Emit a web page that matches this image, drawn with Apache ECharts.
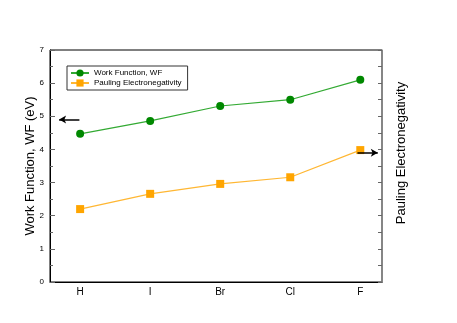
<!DOCTYPE html>
<html>
  <head>
    <meta charset="utf-8" />
    <title>Work Function</title>
    <script src="https://cdn.jsdelivr.net/npm/echarts@6/dist/echarts.min.js"></script>
    <style>
      body { margin: 0; background: #fff; }
    </style>
  </head>
  <body>
    <div id="main" style="width: 457px;height:323px;"></div>
    <script type="text/javascript">
        // data
        var elements = ['H', 'I', 'Br', 'Cl', 'F'];
        var workFunction = [4.47, 4.86, 5.31, 5.50, 6.10];
        var pauling = [2.20, 2.66, 2.96, 3.16, 3.98];
        var yTicks = [0, 1, 2, 3, 4, 5, 6, 7];

        function toPairs(vals) {
            return vals.map(function (v, i) { return [i, v]; });
        }

        var myChart = echarts.init(document.getElementById('main'));

        var option = {
            animation: false,
            textStyle: { fontFamily: 'Liberation Sans, Arial, sans-serif' },
            grid: {
                left: 50, right: 75, top: 50, bottom: 41,
                show: true, borderColor: '#000', borderWidth: 1
            },
            legend: {
                left: 67, top: 66,
                orient: 'vertical',
                itemGap: 2,
                itemWidth: 18, itemHeight: 9,
                padding: [3, 6, 3, 3],
                borderColor: '#333', borderWidth: 1,
                textStyle: { fontSize: 8, color: '#000' },
                data: ['Work Function, WF', 'Pauling Electronegativity']
            },
            xAxis: {
                type: 'value',
                min: -0.43, max: 4.31,
                splitLine: { show: false },
                axisTick: { show: false },
                axisLine: { onZero: false, lineStyle: { color: '#000' } },
                axisLabel: {
                    customValues: [0, 1, 2, 3, 4],
                    color: '#000', fontSize: 10, margin: 5,
                    formatter: function (v) {
                        return elements[Math.round(v)] || '';
                    }
                }
            },
            yAxis: [{
                type: 'value',
                min: yTicks[0], max: yTicks[yTicks.length - 1],
                interval: 1,
                name: 'Work Function, WF (eV)',
                nameLocation: 'middle',
                nameGap: 13,
                nameMoveOverlap: false,
                nameTextStyle: { fontSize: 13, color: '#000' },
                splitLine: { show: false },
                axisLine: { show: true, onZero: false, lineStyle: { color: '#000' } },
                axisTick: { inside: true, length: 5, lineStyle: { color: '#666' } },
                minorTick: { show: true, splitNumber: 2, length: 3, lineStyle: { color: '#666' } },
                axisLabel: { color: '#000', fontSize: 8, margin: 6 }
            }, {
                type: 'value',
                min: 0, max: 7, interval: 0.5,
                position: 'right',
                name: 'Pauling Electronegativity',
                nameLocation: 'middle',
                nameGap: 13,
                nameTextStyle: { fontSize: 13, color: '#000', padding: [0, 0, 0, 26] },
                splitLine: { show: false },
                axisLine: { show: true, onZero: false, lineStyle: { color: '#888', width: 1.5 } },
                axisTick: { inside: true, length: 4, lineStyle: { color: '#666' } },
                axisLabel: { show: false }
            }],
            series: [{
                name: 'Work Function, WF',
                type: 'line',
                data: toPairs(workFunction),
                symbol: 'circle',
                symbolSize: 8,
                itemStyle: { color: '#008800' },
                lineStyle: { color: '#33aa33', width: 1.2 },
                markLine: {
                    silent: true,
                    symbol: ['none', 'arrow'],
                    symbolSize: [6, 7],
                    label: { show: false },
                    lineStyle: { color: '#000', width: 1.5, type: 'solid' },
                    data: [
                        [{ coord: [-0.01, 4.9] }, { coord: [-0.3, 4.9] }],
                        [{ coord: [3.96, 3.9] }, { coord: [4.25, 3.9] }]
                    ]
                }
            }, {
                name: 'Pauling Electronegativity',
                type: 'line',
                data: toPairs(pauling),
                symbol: 'rect',
                symbolSize: 8,
                itemStyle: { color: '#ffa500' },
                lineStyle: { color: '#ffb733', width: 1.2 }
            }]
        };

        myChart.setOption(option);
    </script>
  </body>
</html>
